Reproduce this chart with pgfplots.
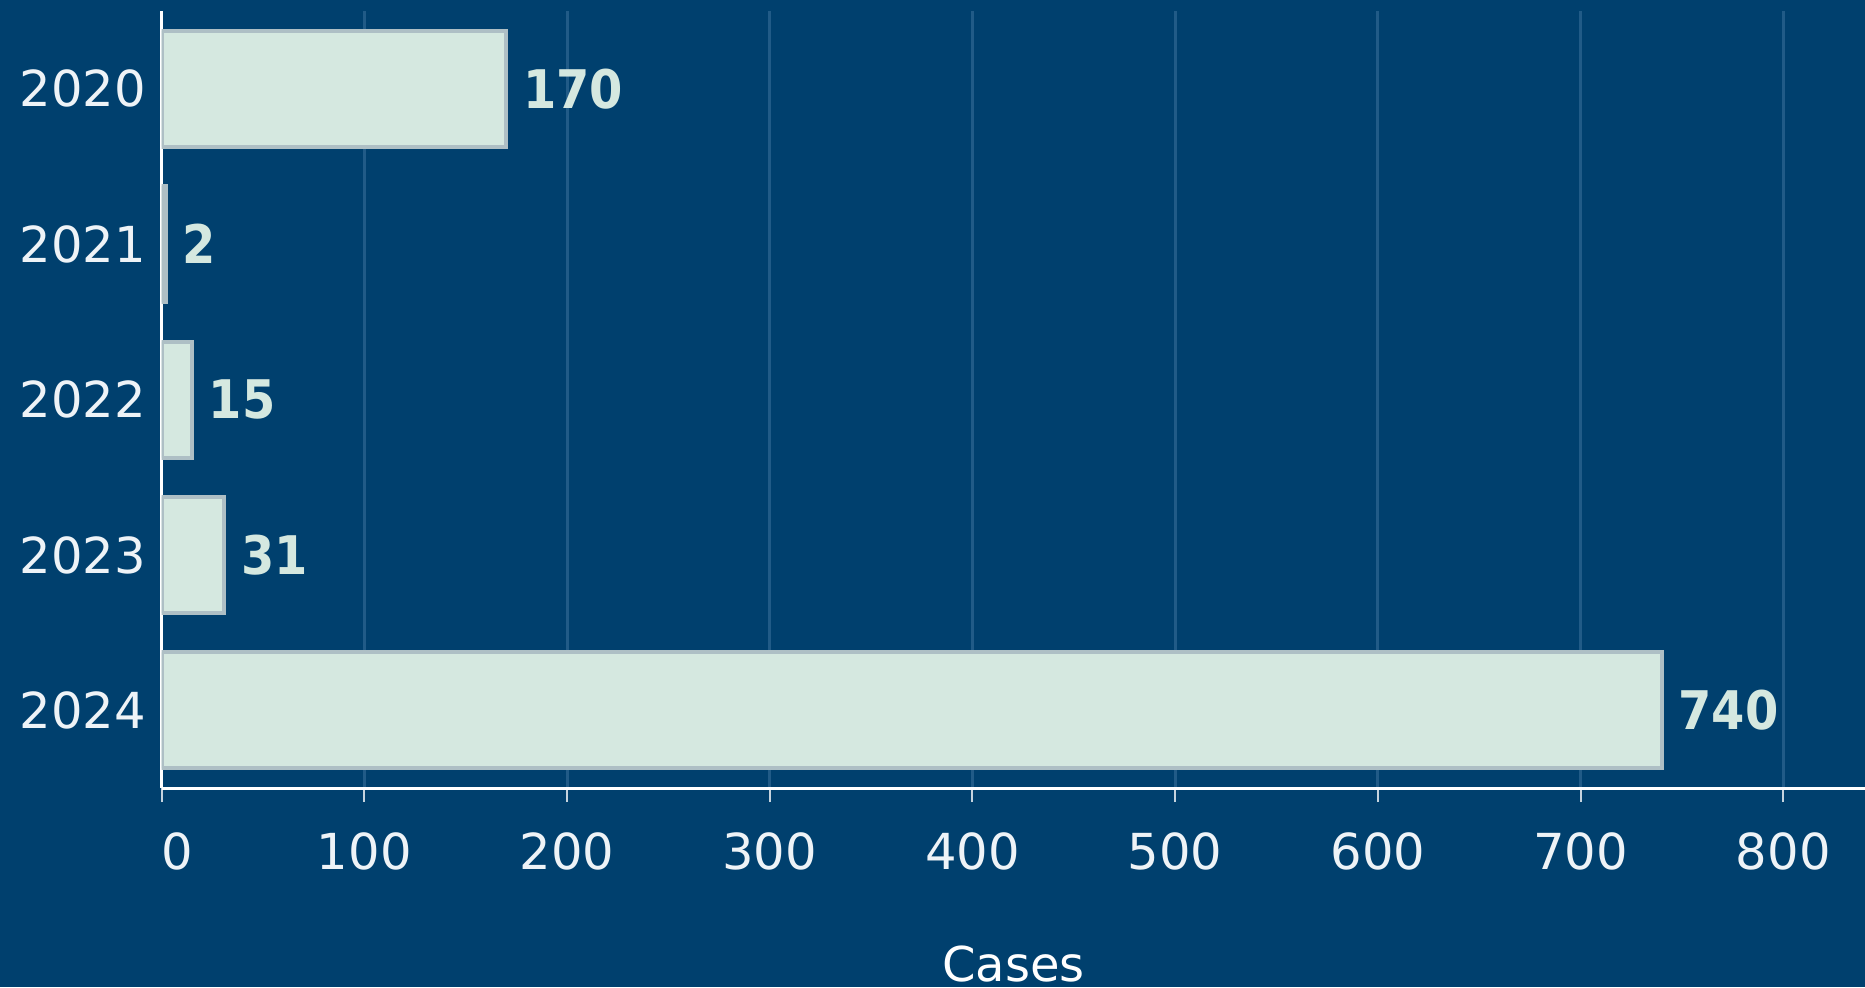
\documentclass[border=0pt]{standalone}
\usepackage{fontspec}
\setmainfont{DejaVu Sans}
\newfontfamily\valfont{DejaVu Sans Condensed}
\usepackage{pgfplots}
\pgfplotsset{compat=1.18}

\definecolor{bgblue}{HTML}{00406E}
\definecolor{barfill}{HTML}{D5E8E0}
\definecolor{barline}{HTML}{AEBFC5}
\definecolor{gridblue}{HTML}{215B87}
\definecolor{ticktext}{HTML}{EEF3F7}
\definecolor{tickmark}{HTML}{C5D3DE}

\begin{document}
\begin{tikzpicture}
\useasboundingbox (-40.4pt,-49.75pt) rectangle (425.8pt,197pt);
\fill[bgblue] (-40.4pt,-49.75pt) rectangle (425.8pt,197pt);
\begin{axis}[
    at={(0,0)}, anchor=south west,
    scale only axis,
    width=425.8pt, height=194.25pt,
    xbar, bar width=29pt,
    xmin=0, xmax=840.3,
    ymin=-0.5, ymax=4.5,
    y dir=reverse,
    axis x line=bottom, axis y line=left,
    axis line style={-, white, line width=0.75pt},
    xtick={0,100,...,800},
    xticklabels={\rlap{0},100,200,300,400,500,600,700,800},
    ytick={0,1,2,3,4},
    yticklabels={2020,2021,2022,2023,2024},
    tick align=outside,
    xtick style={tickmark, line width=0.5pt},
    ytick style={draw=none},
    major tick length=3.5pt,
    xmajorgrids,
    major grid style={gridblue, line width=0.75pt},
    tick label style={font=\fontsize{12.4}{14}\selectfont, text=ticktext},
    xticklabel style={anchor=base, inner sep=0pt, yshift=-16.75pt},
    yticklabel style={anchor=east, inner sep=0pt, xshift=-0.2pt},
    xlabel={Cases},
    xlabel style={at={(axis description cs:0.5,0)}, anchor=base, inner sep=0pt,
        yshift=-48.4pt, font=\fontsize{12}{14}\selectfont, text=white},
    /pgf/number format/assume math mode=true,
    nodes near coords,
    nodes near coords style={anchor=west, inner sep=0pt, xshift=3.7pt,
        font=\valfont\bfseries\fontsize{13.3}{15}\selectfont, text=barfill},
]
\addplot[fill=barfill, draw=barline, line width=1pt]
coordinates {
    (170,0)
    (2,1)
    (15,2)
    (31,3)
    (740,4)
};
\end{axis}
\end{tikzpicture}
\end{document}
